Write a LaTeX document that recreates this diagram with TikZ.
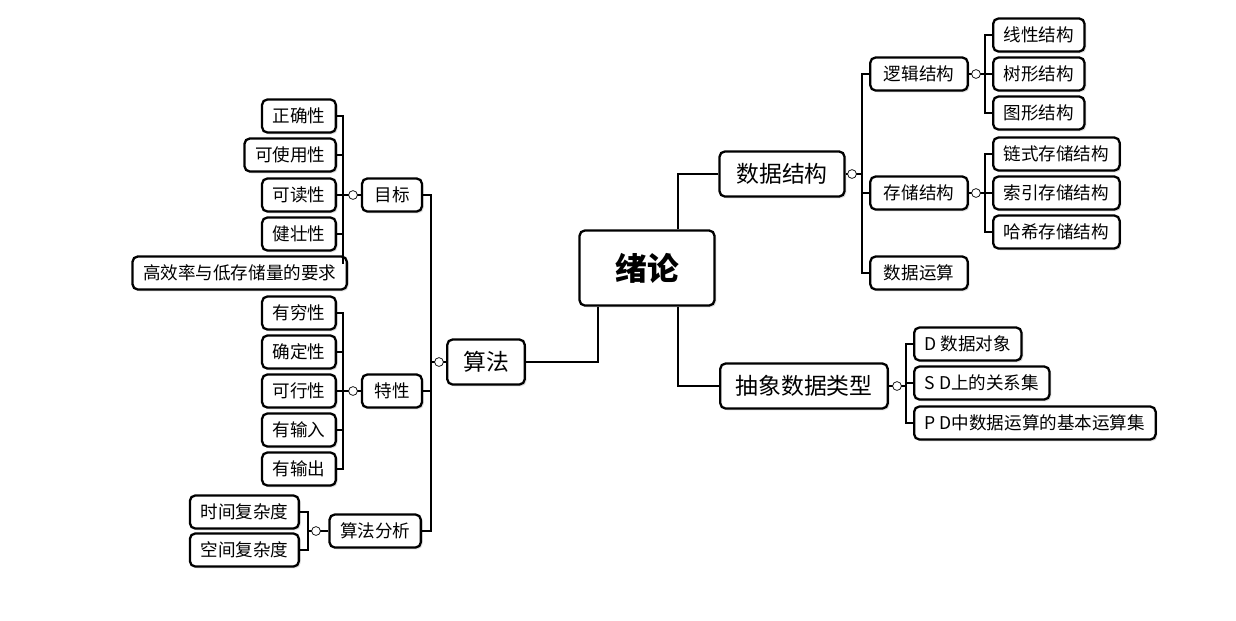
\documentclass[tikz,border=0pt]{standalone}
\usepackage{fontspec}
\setmainfont{Noto Sans CJK SC}
\usetikzlibrary{positioning, shadows}

\tikzset{
  box/.style={draw, line width=1.3pt, rounded corners=3pt, fill=white, inner xsep=6pt, inner ysep=3pt, minimum height=0.66cm, font=\fontsize{10}{12}\selectfont, drop shadow={opacity=0.25, shadow xshift=1pt, shadow yshift=-1pt}},
  mid/.style={box, minimum height=0.9cm, font=\fontsize{13}{15}\selectfont},
  root/.style={box, minimum width=2.7cm, minimum height=1.5cm, font=\fontsize{18}{20}\selectfont\bfseries},
  knob/.style={circle, draw, thin, fill=white, inner sep=0pt, minimum size=5pt},
  link/.style={line width=1.3pt}
}

\begin{document}
\begin{tikzpicture}[x=0.02cm, y=-0.02cm]
    \useasboundingbox (0,0) rectangle (1236,620);

    % Root
    \node[root] (intro) at (647,268) {绪论};
    \node[mid, minimum width=2.5cm] (ds) at (782,174) {数据结构};
    \node[mid, minimum width=3.35cm] (adt) at (804,386) {抽象数据类型};
    \node[mid, minimum width=1.55cm] (algo) at (486,362) {算法};

    \draw[link] (intro.north -| 678,0) |- (ds.west);
    \draw[link] (intro.south -| 678,0) |- (adt.west);
    \draw[link] (intro.south -| 598,0) |- (algo.east);

    % Data structure
    \node[box, minimum width=1.95cm] (logic) at (919,74) {逻辑结构};
    \node[box, minimum width=1.95cm] (store) at (919,193) {存储结构};
    \node[box, minimum width=1.95cm] (ops) at (919,273) {数据运算};
    \coordinate (jds) at (862,174);
    \draw[link] (ds.east) -- (jds);
    \draw[link] (jds) |- (logic.west);
    \draw[link] (jds) |- (store.west);
    \draw[link] (jds) |- (ops.west);
    \node[knob] at (852,174) {};

    \node[box, anchor=west] (lin) at (992,35) {线性结构};
    \node[box, anchor=west] (tree) at (992,74) {树形结构};
    \node[box, anchor=west] (graph) at (992,113) {图形结构};
    \coordinate (jlg) at (985,74);
    \draw[link] (logic.east) -- (jlg);
    \foreach \n in {lin, tree, graph} \draw[link] (jlg) |- (\n.west);
    \node[knob] at (976,74) {};

    \node[box, anchor=west] (chain) at (992,154) {链式存储结构};
    \node[box, anchor=west] (index) at (992,193) {索引存储结构};
    \node[box, anchor=west] (hash) at (992,232) {哈希存储结构};
    \coordinate (jst) at (985,193);
    \draw[link] (store.east) -- (jst);
    \foreach \n in {chain, index, hash} \draw[link] (jst) |- (\n.west);
    \node[knob] at (976,193) {};

    % ADT
    \node[box, anchor=west] (dobj) at (913,344) {D 数据对象};
    \node[box, anchor=west] (srel) at (913,383) {S D上的关系集};
    \node[box, anchor=west] (pops) at (913,423) {P D中数据运算的基本运算集};
    \coordinate (jadt) at (906,386);
    \draw[link] (adt.east) -- (jadt);
    \foreach \n in {dobj, srel, pops} \draw[link] (jadt) |- (\n.west);
    \node[knob] at (897,386) {};

    % Algorithm
    \node[box, minimum width=1.2cm] (goal) at (392,195) {目标};
    \node[box, minimum width=1.2cm] (feat) at (392,391) {特性};
    \node[box, anchor=east] (anal) at (422,531) {算法分析};
    \coordinate (jalg) at (431,362);
    \draw[link] (algo.west) -- (jalg);
    \foreach \n in {goal, feat, anal} \draw[link] (jalg) |- (\n.east);
    \node[knob] at (439,362) {};

    \node[box, anchor=east] (g1) at (337,116) {正确性};
    \node[box, anchor=east] (g2) at (337,155) {可使用性};
    \node[box, anchor=east] (g3) at (337,195) {可读性};
    \node[box, anchor=east] (g4) at (337,234) {健壮性};
    \node[box, anchor=east] (g5) at (348,273) {高效率与低存储量的要求};
    \coordinate (jg) at (343,195);
    \draw[link] (goal.west) -- (jg);
    \foreach \n in {g1, g2, g3, g4} \draw[link] (jg) |- (\n.east);
    \draw[link] (jg) -- (343,264);
    \node[knob] at (353,195) {};

    \node[box, anchor=east] (f1) at (337,313) {有穷性};
    \node[box, anchor=east] (f2) at (337,352) {确定性};
    \node[box, anchor=east] (f3) at (337,391) {可行性};
    \node[box, anchor=east] (f4) at (337,430) {有输入};
    \node[box, anchor=east] (f5) at (337,469) {有输出};
    \coordinate (jf) at (343,391);
    \draw[link] (feat.west) -- (jf);
    \foreach \n in {f1, f2, f3, f4, f5} \draw[link] (jf) |- (\n.east);
    \node[knob] at (353,391) {};

    \node[box, anchor=east] (t1) at (300,512) {时间复杂度};
    \node[box, anchor=east] (t2) at (300,550) {空间复杂度};
    \coordinate (ja) at (308,531);
    \draw[link] (anal.west) -- (ja);
    \foreach \n in {t1, t2} \draw[link] (ja) |- (\n.east);
    \node[knob] at (316,531) {};
\end{tikzpicture}
\end{document}
